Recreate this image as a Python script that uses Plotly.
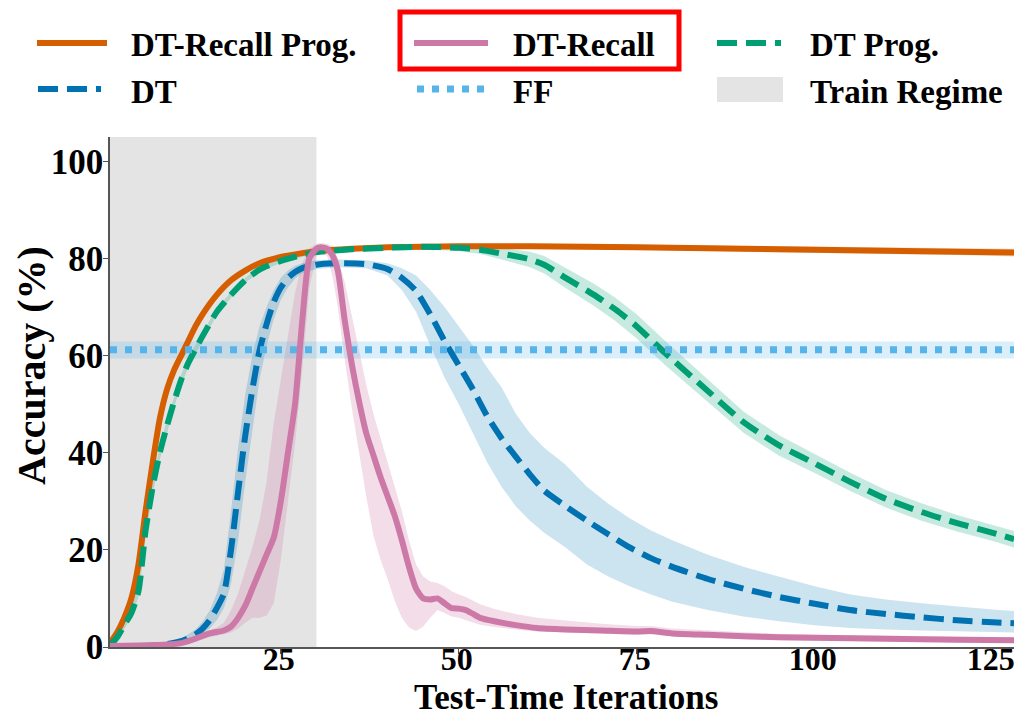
import plotly.graph_objects as go

# ---------------- data ----------------
orange_x = [1, 2, 3, 4, 5, 6, 7, 8, 9, 10, 11, 12, 13, 14, 16, 18, 20, 22, 25, 28, 30, 35, 40, 50, 60, 75, 90, 100, 110, 120, 128]
orange_y = [0.8, 3, 6, 10, 17, 28, 38, 47, 53, 57, 60, 63, 66, 68.5, 72.5, 75.5, 77.5, 79, 80.3, 81.1, 81.5, 82, 82.3, 82.5, 82.5, 82.3, 82, 81.8, 81.6, 81.4, 81.2]
orange_sd = [0.3, 0.6, 0.8, 1, 1.2, 1.3, 1.3, 1.2, 1, 1, 0.9, 0.8, 0.7, 0.6, 0.5, 0.5, 0.4, 0.4, 0.4, 0.4, 0.4, 0.4, 0.4, 0.4, 0.5, 0.5, 0.6, 0.6, 0.7, 0.7, 0.8]

green_x = [1, 2, 3, 4, 5, 6, 7, 8, 9, 10, 11, 12, 13, 14, 16, 18, 20, 22, 25, 28, 30, 35, 40, 45, 50, 53, 56, 60, 62, 65,
           69, 72, 75, 79, 84, 90, 95, 100, 105, 110, 115, 120, 125, 128]
green_y = [0.3, 2, 4.5, 7, 11.5, 24, 33, 40, 45.5, 50.5, 55, 58.5, 61.3, 64, 69, 72.5, 75.5, 77.7, 79.5, 80.7,
           81.3, 81.9, 82.2, 82.4, 82.2, 81.8, 81, 79.8, 78.7, 76, 72.5, 69.5, 66, 60.5, 54, 46.3, 41.5, 37.8, 34, 30.5,
           27.8, 25.5, 23.5, 22.2]
green_sd = [0.2, 0.5, 0.8, 1, 1.2, 1.5, 1.5, 1.4, 1.3, 1.2, 1.1, 1, 0.9, 0.8, 0.7, 0.6, 0.5, 0.5, 0.4, 0.4,
            0.4, 0.4, 0.4, 0.5, 0.7, 0.9, 1.2, 1.6, 1.8, 2.1, 2.3, 2.4, 2.5, 2.5, 2.4, 2.2, 2.1, 2, 1.9, 1.8,
            1.8, 1.7, 1.7, 1.7]

blue_x = [1, 4, 7, 9, 11, 12, 13, 14, 15, 16, 17, 18, 19, 20, 21, 22, 23, 24, 25, 26, 27, 28, 30, 33, 37, 40, 42, 44, 46, 48,
          50, 52, 54, 56, 58, 60, 62, 65, 68, 71, 74, 77, 80, 85, 90, 95, 100, 105, 110, 115, 120, 125, 128]
blue_y = [0, 0.1, 0.3, 0.6, 1.2, 1.8, 2.6, 3.8, 5.5, 8, 11, 20, 32, 43.5, 53, 61, 66.5, 71, 74, 76,
          77.2, 78, 78.7, 79, 78.8, 77.8, 76, 73.3, 68.5, 63, 58, 53, 47.5, 43, 39.2, 35.5, 32.2, 29, 26, 23.2,
          20.5, 18.3, 16.5, 14, 12, 10.3, 8.9, 7.6, 6.8, 6.1, 5.5, 5.1, 4.9]
blue_lo = [0, 0, 0.1, 0.3, 0.8, 1.2, 1.8, 2.6, 3.8, 5.5, 8, 13, 22, 34, 45, 55, 62, 67.5, 71.5, 74,
           75.8, 77, 77.8, 78.2, 78, 76.5, 73.5, 69, 62, 55.5, 50, 44, 38, 33, 29, 26, 23.5, 20.5, 17, 14.5,
           12.5, 10.8, 9.3, 7.6, 6.3, 5.3, 4.5, 3.9, 3.6, 3.4, 3.2, 3.1, 3.0]
blue_hi = [0.1, 0.3, 0.6, 1, 1.8, 2.6, 3.6, 5.2, 7.5, 11, 16, 28, 41, 52, 60, 66, 70, 73.5, 76, 77.5,
           78.5, 79, 79.6, 79.8, 79.6, 79, 78, 76.5, 73.5, 70, 66, 62, 57.5, 53.5, 48, 44, 41, 37.5, 33, 29.5,
           26.5, 24, 22, 19, 16.5, 14.5, 12.5, 10.8, 9.8, 9, 8.3, 7.7, 7.4]

pink_x = [1, 5, 9, 11, 12, 13, 14, 15, 16, 17, 18, 19, 20, 21, 22, 23, 24, 25, 26, 27,
          28, 29, 30, 30.6, 31.5, 32.3, 33, 34, 35, 36, 37, 38, 39, 40, 41, 42, 43, 44, 45, 46,
          47, 48, 49, 50, 51, 52, 53, 55, 58, 61, 65, 70, 75, 77, 80, 85, 90, 95, 100, 110, 120, 128]
pink_y = [0.2, 0.3, 0.5, 0.8, 1.2, 1.7, 2.3, 2.8, 3.1, 3.4, 4.2, 6, 8.5, 12, 15.5, 19, 22.5, 30, 40, 50,
          67, 80, 82, 82.3, 82, 80.5, 77.5, 67, 58, 50.5, 44, 39.5, 35, 31, 27, 22, 16.5, 12, 10, 9.8,
          10, 9, 8, 7.9, 7.6, 6.8, 6, 5.3, 4.5, 3.9, 3.6, 3.4, 3.2, 3.3, 2.8, 2.5, 2.2, 2.0, 1.9, 1.7, 1.5, 1.4]
pink_lo = [0, 0.1, 0.2, 0.4, 0.7, 1.1, 1.6, 2, 2.3, 2.6, 3, 3.8, 5, 6, 6, 6.5, 9, 18, 30, 42,
           57, 74, 80.5, 81, 80.5, 76, 70, 59, 49, 40, 31, 23, 18, 14, 9.5, 6, 4, 3.3, 4.2, 6,
           7.6, 7, 6.3, 6, 5.5, 5, 4.6, 4.1, 3.6, 3.2, 3, 2.8, 2.5, 2.6, 2.2, 1.9, 1.6, 1.4, 1.3, 1.2, 1.0, 0.9]
pink_hi = [0.3, 0.5, 0.8, 1.2, 1.8, 2.3, 2.9, 3.4, 4, 5, 7.5, 11, 15.5, 20.5, 26, 34, 46, 55, 64, 73,
           79, 82, 83, 83.2, 83, 82.5, 80, 75, 68, 61, 54, 48, 43, 38.5, 33.5, 28, 22, 17, 14.5, 13.5,
           13.2, 12.5, 11.5, 10.8, 10.3, 9.5, 8.8, 7.8, 6.8, 6, 5.4, 4.8, 4.3, 4.3, 3.8, 3.4, 3, 2.7, 2.5, 2.3, 2.1, 2]

ff_x = [1, 128]
ff_y = [61.2, 61.2]
ff_lo = [59.4, 59.4]
ff_hi = [62.9, 62.9]

train_regime = [1, 30]

x_ticks = [25, 50, 75, 100, 125]
y_ticks = [0, 20, 40, 60, 80, 100]
x_range = [1, 128]
y_range = [0, 105]

# ---------------- style ----------------
C_ORANGE = "#D55E00"
C_PINK = "#CC79A7"
C_GREEN = "#009E73"
C_BLUE = "#0072B2"
C_SKY = "#56B4E9"
C_GRAY = "#E4E4E4"
DASH = "20px,9px"
DOT = "7px,8px"
FONT = "Liberation Serif"

W_FIG, H_FIG = 1014, 717
ML, MR, MT, MB = 110, 0, 137, 70
PW = W_FIG - ML - MR
PH = H_FIG - MT - MB


def pxx(p):
    return (p - ML) / PW


def pxy(p):
    return (H_FIG - MB - p) / PH


fig = go.Figure()


def band(x, lo, hi, color):
    fig.add_trace(go.Scatter(
        x=list(x) + list(x)[::-1], y=list(hi) + list(lo)[::-1],
        fill="toself", fillcolor=color, mode="lines", line=dict(width=0),
        hoverinfo="skip", showlegend=False))


band(orange_x, [a - s for a, s in zip(orange_y, orange_sd)], [a + s for a, s in zip(orange_y, orange_sd)],
     "rgba(213,94,0,0.25)")
band(pink_x, pink_lo, pink_hi, "rgba(204,121,167,0.25)")
band(green_x, [a - s for a, s in zip(green_y, green_sd)], [a + s for a, s in zip(green_y, green_sd)],
     "rgba(0,158,115,0.22)")
band(blue_x, blue_lo, blue_hi, "rgba(0,114,178,0.2)")
band(ff_x, ff_lo, ff_hi, "rgba(86,180,233,0.22)")

fig.add_trace(go.Scatter(x=orange_x, y=orange_y, mode="lines", name="DT-Recall Prog.",
                         line=dict(color=C_ORANGE, width=6, shape="spline", smoothing=0.6), showlegend=False))
fig.add_trace(go.Scatter(x=green_x, y=green_y, mode="lines", name="DT Prog.",
                         line=dict(color=C_GREEN, width=6, dash=DASH, shape="spline", smoothing=0.6), showlegend=False))
fig.add_trace(go.Scatter(x=blue_x, y=blue_y, mode="lines", name="DT",
                         line=dict(color=C_BLUE, width=6, dash=DASH, shape="spline", smoothing=0.6), showlegend=False))
fig.add_trace(go.Scatter(x=ff_x, y=ff_y, mode="lines", name="FF",
                         line=dict(color=C_SKY, width=7, dash=DOT), showlegend=False))
fig.add_trace(go.Scatter(x=pink_x, y=pink_y, mode="lines", name="DT-Recall",
                         line=dict(color=C_PINK, width=6, shape="spline", smoothing=0.6), showlegend=False))

shapes = [
    dict(type="rect", xref="x", yref="paper", x0=train_regime[0], x1=train_regime[1], y0=0, y1=1,
         fillcolor=C_GRAY, line=dict(width=0), layer="below"),
]
annotations = []

# ---------------- manual legend ----------------
legend_items = [
    ("DT-Recall Prog.", C_ORANGE, "solid", 37, 107, 129, 43, 45),
    ("DT-Recall", C_PINK, "solid", 414, 488, 511, 43, 45),
    ("DT Prog.", C_GREEN, DASH, 717, 781, 808, 43, 45),
    ("DT", C_BLUE, DASH, 38, 101, 129, 89, 92),
    ("FF", C_SKY, DOT, 417, 487, 511, 89, 92),
]
for name, col, dash, x0, x1, tx, ly, ty in legend_items:
    shapes.append(dict(type="line", xref="paper", yref="paper", x0=pxx(x0), x1=pxx(x1), y0=pxy(ly), y1=pxy(ly),
                       line=dict(color=col, width=6 if dash != DOT else 7, dash=dash)))
    annotations.append(dict(text=name, xref="paper", yref="paper", x=pxx(tx), y=pxy(ty), xanchor="left",
                            yanchor="middle", showarrow=False,
                            font=dict(family=FONT, size=33, color="black", weight="bold")))
shapes.append(dict(type="rect", xref="paper", yref="paper", x0=pxx(717), x1=pxx(783), y0=pxy(102), y1=pxy(77),
                   fillcolor=C_GRAY, line=dict(width=0)))
annotations.append(dict(text="Train Regime", xref="paper", yref="paper", x=pxx(808), y=pxy(92), xanchor="left",
                        yanchor="middle", showarrow=False,
                        font=dict(family=FONT, size=33, color="black", weight="bold")))
# red highlight box
shapes.append(dict(type="rect", xref="paper", yref="paper", x0=pxx(400), x1=pxx(679), y0=pxy(69), y1=pxy(12),
                   fillcolor="rgba(0,0,0,0)", line=dict(color="#FF0000", width=5)))

# axis titles
annotations.append(dict(text="Accuracy (%)", xref="paper", yref="paper", x=pxx(31), y=pxy(366),
                        xanchor="center", yanchor="middle", textangle=-90, showarrow=False,
                        font=dict(family=FONT, size=40, color="black", weight="bold")))
annotations.append(dict(text="Test-Time Iterations", xref="paper", yref="paper", x=pxx(566), y=pxy(697),
                        xanchor="center", yanchor="middle", showarrow=False,
                        font=dict(family=FONT, size=35, color="black", weight="bold")))

fig.update_layout(
    width=W_FIG, height=H_FIG,
    margin=dict(l=ML, r=MR, t=MT, b=MB, pad=0),
    paper_bgcolor="white", plot_bgcolor="white",
    showlegend=False,
    shapes=shapes, annotations=annotations,
    xaxis=dict(range=x_range, tickvals=x_ticks, ticks="outside", ticklen=5, tickwidth=1, tickcolor="#555",
               showline=True, linecolor="#555", linewidth=1.5, showgrid=False, zeroline=False,
               automargin=False, ticklabeloverflow="allow", ticklabelstandoff=-22, ticklabelshift=-2,
               tickfont=dict(family=FONT, size=32, color="black", weight="bold")),
    yaxis=dict(range=y_range, tickvals=y_ticks, ticks="outside", ticklen=5, tickwidth=1, tickcolor="#555",
               showline=True, linecolor="#555", linewidth=1.5, showgrid=False, zeroline=False,
               automargin=False, ticklabelstandoff=-7,
               tickfont=dict(family=FONT, size=35, color="black", weight="bold")),
)

fig.write_html("out.html")
